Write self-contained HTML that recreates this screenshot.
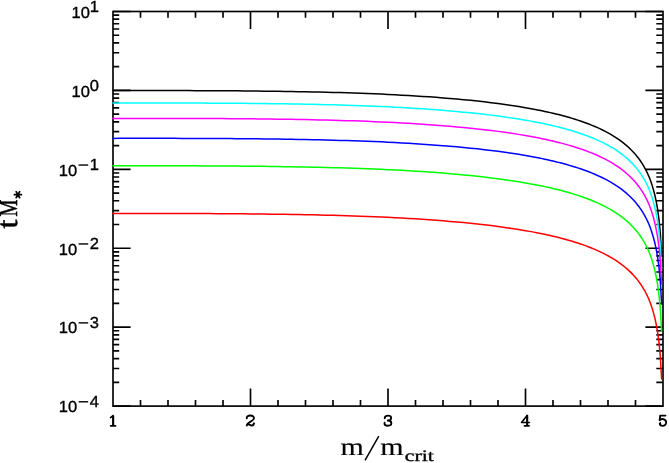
<!DOCTYPE html>
<html><head><meta charset="utf-8"><title>plot</title>
<style>html,body{margin:0;padding:0;background:#fff}svg{display:block;will-change:transform}text{font-family:"Liberation Sans",sans-serif;text-rendering:geometricPrecision;fill:#000;stroke:#000;stroke-width:.35px}.s{font-family:"Liberation Serif",serif;stroke-width:.25px}.b{font-family:"Liberation Serif",serif;stroke-width:.35px}</style></head><body>
<svg width="669" height="463" viewBox="0 0 669 463">
<rect width="669" height="463" fill="#fff"/>
<path d="M140.50 406.10v-6.2M140.50 11.50v6.2M168.00 406.10v-6.2M168.00 11.50v6.2M195.50 406.10v-6.2M195.50 11.50v6.2M223.00 406.10v-6.2M223.00 11.50v6.2M250.50 406.10v-17.6M250.50 11.50v17.6M278.00 406.10v-6.2M278.00 11.50v6.2M305.50 406.10v-6.2M305.50 11.50v6.2M333.00 406.10v-6.2M333.00 11.50v6.2M360.50 406.10v-6.2M360.50 11.50v6.2M388.00 406.10v-17.6M388.00 11.50v17.6M415.50 406.10v-6.2M415.50 11.50v6.2M443.00 406.10v-6.2M443.00 11.50v6.2M470.50 406.10v-6.2M470.50 11.50v6.2M498.00 406.10v-6.2M498.00 11.50v6.2M525.50 406.10v-17.6M525.50 11.50v17.6M553.00 406.10v-6.2M553.00 11.50v6.2M580.50 406.10v-6.2M580.50 11.50v6.2M608.00 406.10v-6.2M608.00 11.50v6.2M635.50 406.10v-6.2M635.50 11.50v6.2M113.00 406.10h17.6M663.00 406.10h-17.6M113.00 382.34h6.2M663.00 382.34h-6.7M113.00 368.45h6.2M663.00 368.45h-6.7M113.00 358.59h6.2M663.00 358.59h-6.7M113.00 350.94h6.2M663.00 350.94h-6.7M113.00 344.69h6.2M663.00 344.69h-6.7M113.00 339.40h6.2M663.00 339.40h-6.7M113.00 334.83h6.2M663.00 334.83h-6.7M113.00 330.79h6.2M663.00 330.79h-6.7M113.00 327.18h17.6M663.00 327.18h-17.6M113.00 303.42h6.2M663.00 303.42h-6.7M113.00 289.53h6.2M663.00 289.53h-6.7M113.00 279.67h6.2M663.00 279.67h-6.7M113.00 272.02h6.2M663.00 272.02h-6.7M113.00 265.77h6.2M663.00 265.77h-6.7M113.00 260.48h6.2M663.00 260.48h-6.7M113.00 255.91h6.2M663.00 255.91h-6.7M113.00 251.87h6.2M663.00 251.87h-6.7M113.00 248.26h17.6M663.00 248.26h-17.6M113.00 224.50h6.2M663.00 224.50h-6.7M113.00 210.61h6.2M663.00 210.61h-6.7M113.00 200.75h6.2M663.00 200.75h-6.7M113.00 193.10h6.2M663.00 193.10h-6.7M113.00 186.85h6.2M663.00 186.85h-6.7M113.00 181.56h6.2M663.00 181.56h-6.7M113.00 176.99h6.2M663.00 176.99h-6.7M113.00 172.95h6.2M663.00 172.95h-6.7M113.00 169.34h17.6M663.00 169.34h-17.6M113.00 145.58h6.2M663.00 145.58h-6.7M113.00 131.69h6.2M663.00 131.69h-6.7M113.00 121.83h6.2M663.00 121.83h-6.7M113.00 114.18h6.2M663.00 114.18h-6.7M113.00 107.93h6.2M663.00 107.93h-6.7M113.00 102.64h6.2M663.00 102.64h-6.7M113.00 98.07h6.2M663.00 98.07h-6.7M113.00 94.03h6.2M663.00 94.03h-6.7M113.00 90.42h17.6M663.00 90.42h-17.6M113.00 66.66h6.2M663.00 66.66h-6.7M113.00 52.77h6.2M663.00 52.77h-6.7M113.00 42.91h6.2M663.00 42.91h-6.7M113.00 35.26h6.2M663.00 35.26h-6.7M113.00 29.01h6.2M663.00 29.01h-6.7M113.00 23.72h6.2M663.00 23.72h-6.7M113.00 19.15h6.2M663.00 19.15h-6.7M113.00 15.11h6.2M663.00 15.11h-6.7M113.00 11.50h17.6M663.00 11.50h-17.6" stroke="#000" stroke-width="1.65" fill="none"/>
<rect x="113.0" y="11.5" width="550.0" height="394.6" fill="none" stroke="#000" stroke-width="1.65"/>
<path d="M113.00,90.60 119.88,90.59 126.75,90.58 133.63,90.57 140.50,90.57 147.38,90.57 154.25,90.57 161.13,90.57 168.00,90.58 174.88,90.59 181.75,90.60 188.63,90.62 195.50,90.64 202.38,90.66 209.25,90.69 216.13,90.73 223.00,90.77 229.88,90.81 236.75,90.86 243.63,90.92 250.50,90.98 257.38,91.06 264.25,91.13 271.13,91.22 278.00,91.31 284.88,91.42 291.75,91.53 298.62,91.65 305.50,91.78 312.37,91.93 319.25,92.08 326.12,92.25 333.00,92.43 339.87,92.62 346.75,92.83 353.62,93.05 360.50,93.28 367.37,93.54 374.25,93.81 381.12,94.09 388.00,94.40 394.87,94.75 401.75,95.13 408.62,95.52 415.50,95.94 422.37,96.38 429.25,96.86 436.12,97.36 443.00,97.89 449.87,98.46 456.75,99.06 463.62,99.69 470.50,100.37 477.37,101.09 484.25,101.86 491.12,102.68 498.00,103.56 504.87,104.49 511.75,105.49 518.62,106.56 525.50,107.71 528.25,108.19 531.00,108.69 533.75,109.20 536.50,109.72 539.25,110.27 542.00,110.83 544.75,111.41 547.50,112.00 550.25,112.62 553.00,113.26 555.75,113.92 558.50,114.60 561.25,115.30 564.00,116.03 566.75,116.79 569.50,117.57 572.25,118.38 575.00,119.23 577.75,120.11 580.50,121.02 583.25,121.98 586.00,122.97 588.75,124.01 591.50,125.09 594.25,126.23 597.00,127.42 599.75,128.67 602.50,129.99 605.25,131.37 608.00,132.84 610.75,134.39 613.50,136.03 616.25,137.78 619.00,139.65 621.75,141.66 624.50,143.82 627.25,146.15 630.00,148.68 632.75,151.46 635.50,154.52 636.87,156.17 638.25,157.92 639.62,159.78 641.00,161.75 642.37,163.86 643.75,166.12 645.12,168.56 646.50,171.20 647.87,174.08 649.25,177.24 650.62,180.85 652.00,184.89 653.37,189.46 654.75,194.74 656.12,200.99 657.50,208.63 658.87,218.49 660.25,232.38 661.62,256.14" fill="none" stroke="#000" stroke-width="1.5" stroke-linejoin="round" stroke-linecap="round"/>
<path d="M113.00,103.04 119.88,103.03 126.75,103.02 133.63,103.01 140.50,103.01 147.38,103.01 154.25,103.01 161.13,103.01 168.00,103.02 174.88,103.03 181.75,103.04 188.63,103.06 195.50,103.08 202.38,103.10 209.25,103.13 216.13,103.17 223.00,103.21 229.88,103.25 236.75,103.30 243.63,103.36 250.50,103.42 257.38,103.50 264.25,103.57 271.13,103.66 278.00,103.75 284.88,103.86 291.75,103.97 298.62,104.09 305.50,104.22 312.37,104.37 319.25,104.52 326.12,104.69 333.00,104.87 339.87,105.06 346.75,105.27 353.62,105.49 360.50,105.72 367.37,105.98 374.25,106.25 381.12,106.53 388.00,106.84 394.87,107.19 401.75,107.57 408.62,107.96 415.50,108.38 422.37,108.82 429.25,109.30 436.12,109.80 443.00,110.33 449.87,110.90 456.75,111.50 463.62,112.13 470.50,112.81 477.37,113.53 484.25,114.30 491.12,115.12 498.00,116.00 504.87,116.93 511.75,117.93 518.62,119.00 525.50,120.15 528.25,120.63 531.00,121.13 533.75,121.64 536.50,122.16 539.25,122.71 542.00,123.27 544.75,123.85 547.50,124.44 550.25,125.06 553.00,125.70 555.75,126.36 558.50,127.04 561.25,127.74 564.00,128.47 566.75,129.23 569.50,130.01 572.25,130.82 575.00,131.67 577.75,132.55 580.50,133.46 583.25,134.42 586.00,135.41 588.75,136.45 591.50,137.53 594.25,138.67 597.00,139.86 599.75,141.11 602.50,142.43 605.25,143.81 608.00,145.28 610.75,146.83 613.50,148.47 616.25,150.22 619.00,152.09 621.75,154.10 624.50,156.26 627.25,158.59 630.00,161.12 632.75,163.90 635.50,166.96 636.87,168.61 638.25,170.36 639.62,172.22 641.00,174.19 642.37,176.30 643.75,178.56 645.12,181.00 646.50,183.64 647.87,186.52 649.25,189.68 650.62,193.29 652.00,197.33 653.37,201.90 654.75,207.18 656.12,213.43 657.50,221.07 658.87,230.93 660.25,244.82 661.62,268.58" fill="none" stroke="#0ff" stroke-width="1.5" stroke-linejoin="round" stroke-linecap="round"/>
<path d="M113.00,118.42 119.88,118.41 126.75,118.40 133.63,118.39 140.50,118.39 147.38,118.39 154.25,118.39 161.13,118.39 168.00,118.40 174.88,118.41 181.75,118.42 188.63,118.44 195.50,118.46 202.38,118.48 209.25,118.51 216.13,118.55 223.00,118.59 229.88,118.63 236.75,118.68 243.63,118.74 250.50,118.80 257.38,118.88 264.25,118.95 271.13,119.04 278.00,119.13 284.88,119.24 291.75,119.35 298.62,119.47 305.50,119.60 312.37,119.75 319.25,119.90 326.12,120.07 333.00,120.25 339.87,120.44 346.75,120.65 353.62,120.87 360.50,121.10 367.37,121.36 374.25,121.63 381.12,121.91 388.00,122.22 394.87,122.57 401.75,122.95 408.62,123.34 415.50,123.76 422.37,124.20 429.25,124.68 436.12,125.18 443.00,125.71 449.87,126.28 456.75,126.88 463.62,127.51 470.50,128.19 477.37,128.91 484.25,129.68 491.12,130.50 498.00,131.38 504.87,132.31 511.75,133.31 518.62,134.38 525.50,135.53 528.25,136.01 531.00,136.51 533.75,137.02 536.50,137.54 539.25,138.09 542.00,138.65 544.75,139.23 547.50,139.82 550.25,140.44 553.00,141.08 555.75,141.74 558.50,142.42 561.25,143.12 564.00,143.85 566.75,144.61 569.50,145.39 572.25,146.20 575.00,147.05 577.75,147.93 580.50,148.84 583.25,149.80 586.00,150.79 588.75,151.83 591.50,152.91 594.25,154.05 597.00,155.24 599.75,156.49 602.50,157.81 605.25,159.19 608.00,160.66 610.75,162.21 613.50,163.85 616.25,165.60 619.00,167.47 621.75,169.48 624.50,171.64 627.25,173.97 630.00,176.50 632.75,179.28 635.50,182.34 636.87,183.99 638.25,185.74 639.62,187.60 641.00,189.57 642.37,191.68 643.75,193.94 645.12,196.38 646.50,199.02 647.87,201.90 649.25,205.06 650.62,208.67 652.00,212.71 653.37,217.28 654.75,222.56 656.12,228.81 657.50,236.45 658.87,246.31 660.25,260.20 661.62,283.96" fill="none" stroke="#f0f" stroke-width="1.5" stroke-linejoin="round" stroke-linecap="round"/>
<path d="M113.00,138.38 119.88,138.37 126.75,138.36 133.63,138.35 140.50,138.35 147.38,138.35 154.25,138.35 161.13,138.35 168.00,138.36 174.88,138.37 181.75,138.38 188.63,138.40 195.50,138.42 202.38,138.44 209.25,138.47 216.13,138.51 223.00,138.55 229.88,138.59 236.75,138.64 243.63,138.70 250.50,138.76 257.38,138.84 264.25,138.91 271.13,139.00 278.00,139.09 284.88,139.20 291.75,139.31 298.62,139.43 305.50,139.56 312.37,139.71 319.25,139.86 326.12,140.03 333.00,140.21 339.87,140.40 346.75,140.61 353.62,140.83 360.50,141.06 367.37,141.32 374.25,141.59 381.12,141.87 388.00,142.18 394.87,142.53 401.75,142.91 408.62,143.30 415.50,143.72 422.37,144.16 429.25,144.64 436.12,145.14 443.00,145.67 449.87,146.24 456.75,146.84 463.62,147.47 470.50,148.15 477.37,148.87 484.25,149.64 491.12,150.46 498.00,151.34 504.87,152.27 511.75,153.27 518.62,154.34 525.50,155.49 528.25,155.97 531.00,156.47 533.75,156.98 536.50,157.50 539.25,158.05 542.00,158.61 544.75,159.19 547.50,159.78 550.25,160.40 553.00,161.04 555.75,161.70 558.50,162.38 561.25,163.08 564.00,163.81 566.75,164.57 569.50,165.35 572.25,166.16 575.00,167.01 577.75,167.89 580.50,168.80 583.25,169.76 586.00,170.75 588.75,171.79 591.50,172.87 594.25,174.01 597.00,175.20 599.75,176.45 602.50,177.77 605.25,179.15 608.00,180.62 610.75,182.17 613.50,183.81 616.25,185.56 619.00,187.43 621.75,189.44 624.50,191.60 627.25,193.93 630.00,196.46 632.75,199.24 635.50,202.30 636.87,203.95 638.25,205.70 639.62,207.56 641.00,209.53 642.37,211.64 643.75,213.90 645.12,216.34 646.50,218.98 647.87,221.86 649.25,225.02 650.62,228.63 652.00,232.67 653.37,237.24 654.75,242.52 656.12,248.77 657.50,256.41 658.87,266.27 660.25,280.16 661.62,303.92" fill="none" stroke="#00f" stroke-width="1.5" stroke-linejoin="round" stroke-linecap="round"/>
<path d="M113.00,165.83 119.88,165.82 126.75,165.81 133.63,165.80 140.50,165.80 147.38,165.80 154.25,165.80 161.13,165.80 168.00,165.81 174.88,165.82 181.75,165.83 188.63,165.85 195.50,165.87 202.38,165.89 209.25,165.92 216.13,165.96 223.00,166.00 229.88,166.04 236.75,166.09 243.63,166.15 250.50,166.21 257.38,166.29 264.25,166.36 271.13,166.45 278.00,166.54 284.88,166.65 291.75,166.76 298.62,166.88 305.50,167.01 312.37,167.16 319.25,167.31 326.12,167.48 333.00,167.66 339.87,167.85 346.75,168.06 353.62,168.28 360.50,168.51 367.37,168.77 374.25,169.04 381.12,169.32 388.00,169.63 394.87,169.98 401.75,170.36 408.62,170.75 415.50,171.17 422.37,171.61 429.25,172.09 436.12,172.59 443.00,173.12 449.87,173.69 456.75,174.29 463.62,174.92 470.50,175.60 477.37,176.32 484.25,177.09 491.12,177.91 498.00,178.79 504.87,179.72 511.75,180.72 518.62,181.79 525.50,182.94 528.25,183.42 531.00,183.92 533.75,184.43 536.50,184.95 539.25,185.50 542.00,186.06 544.75,186.64 547.50,187.23 550.25,187.85 553.00,188.49 555.75,189.15 558.50,189.83 561.25,190.53 564.00,191.26 566.75,192.02 569.50,192.80 572.25,193.61 575.00,194.46 577.75,195.34 580.50,196.25 583.25,197.21 586.00,198.20 588.75,199.24 591.50,200.32 594.25,201.46 597.00,202.65 599.75,203.90 602.50,205.22 605.25,206.60 608.00,208.07 610.75,209.62 613.50,211.26 616.25,213.01 619.00,214.88 621.75,216.89 624.50,219.05 627.25,221.38 630.00,223.91 632.75,226.69 635.50,229.75 636.87,231.40 638.25,233.15 639.62,235.01 641.00,236.98 642.37,239.09 643.75,241.35 645.12,243.79 646.50,246.43 647.87,249.31 649.25,252.47 650.62,256.08 652.00,260.12 653.37,264.69 654.75,269.97 656.12,276.22 657.50,283.86 658.87,293.72 660.25,307.61 661.62,331.37" fill="none" stroke="#0f0" stroke-width="1.5" stroke-linejoin="round" stroke-linecap="round"/>
<path d="M113.00,213.53 119.88,213.52 126.75,213.51 133.63,213.50 140.50,213.50 147.38,213.50 154.25,213.50 161.13,213.50 168.00,213.51 174.88,213.52 181.75,213.53 188.63,213.55 195.50,213.57 202.38,213.59 209.25,213.62 216.13,213.66 223.00,213.70 229.88,213.74 236.75,213.79 243.63,213.85 250.50,213.91 257.38,213.99 264.25,214.06 271.13,214.15 278.00,214.24 284.88,214.35 291.75,214.46 298.62,214.58 305.50,214.71 312.37,214.86 319.25,215.01 326.12,215.18 333.00,215.36 339.87,215.55 346.75,215.76 353.62,215.98 360.50,216.21 367.37,216.47 374.25,216.74 381.12,217.02 388.00,217.33 394.87,217.68 401.75,218.06 408.62,218.45 415.50,218.87 422.37,219.31 429.25,219.79 436.12,220.29 443.00,220.82 449.87,221.39 456.75,221.99 463.62,222.62 470.50,223.30 477.37,224.02 484.25,224.79 491.12,225.61 498.00,226.49 504.87,227.42 511.75,228.42 518.62,229.49 525.50,230.64 528.25,231.12 531.00,231.62 533.75,232.13 536.50,232.65 539.25,233.20 542.00,233.76 544.75,234.34 547.50,234.93 550.25,235.55 553.00,236.19 555.75,236.85 558.50,237.53 561.25,238.23 564.00,238.96 566.75,239.72 569.50,240.50 572.25,241.31 575.00,242.16 577.75,243.04 580.50,243.95 583.25,244.91 586.00,245.90 588.75,246.94 591.50,248.02 594.25,249.16 597.00,250.35 599.75,251.60 602.50,252.92 605.25,254.30 608.00,255.77 610.75,257.32 613.50,258.96 616.25,260.71 619.00,262.58 621.75,264.59 624.50,266.75 627.25,269.08 630.00,271.61 632.75,274.39 635.50,277.45 636.87,279.10 638.25,280.85 639.62,282.71 641.00,284.68 642.37,286.79 643.75,289.05 645.12,291.49 646.50,294.13 647.87,297.01 649.25,300.17 650.62,303.78 652.00,307.82 653.37,312.39 654.75,317.67 656.12,323.92 657.50,331.56 658.87,341.42 660.25,355.31 661.62,379.07" fill="none" stroke="#f00" stroke-width="1.5" stroke-linejoin="round" stroke-linecap="round"/>
<text transform="translate(77.10,412.40) scale(1.03,1)" font-size="16" text-anchor="end">10</text>
<path d="M78.6 401.80h9.6" stroke="#000" stroke-width="1.4" fill="none"/>
<text transform="translate(98.80,406.70) scale(1.03,1)" font-size="16" text-anchor="end">4</text>
<text transform="translate(77.10,333.48) scale(1.03,1)" font-size="16" text-anchor="end">10</text>
<path d="M78.6 322.88h9.6" stroke="#000" stroke-width="1.4" fill="none"/>
<text transform="translate(98.80,327.78) scale(1.03,1)" font-size="16" text-anchor="end">3</text>
<text transform="translate(77.10,254.56) scale(1.03,1)" font-size="16" text-anchor="end">10</text>
<path d="M78.6 243.96h9.6" stroke="#000" stroke-width="1.4" fill="none"/>
<text transform="translate(98.80,248.86) scale(1.03,1)" font-size="16" text-anchor="end">2</text>
<text transform="translate(77.10,175.64) scale(1.03,1)" font-size="16" text-anchor="end">10</text>
<path d="M78.6 165.04h9.6" stroke="#000" stroke-width="1.4" fill="none"/>
<text transform="translate(98.80,169.94) scale(1.03,1)" font-size="16" text-anchor="end">1</text>
<text transform="translate(89.90,96.72) scale(1.03,1)" font-size="16" text-anchor="end">10</text>
<text transform="translate(98.80,91.02) scale(1.03,1)" font-size="16" text-anchor="end">0</text>
<text transform="translate(89.90,17.80) scale(1.03,1)" font-size="16" text-anchor="end">10</text>
<text transform="translate(98.80,12.10) scale(1.03,1)" font-size="16" text-anchor="end">1</text>
<path d="M113.13,415.56 L113.13,425.59" stroke="#000" stroke-width="2.15" fill="none" stroke-linecap="butt" stroke-linejoin="round"/>
<path d="M110.54,417.61 L113.02,415.56" stroke="#000" stroke-width="1.6" fill="none" stroke-linecap="round" stroke-linejoin="round"/>
<path d="M110.65,425.81 L115.51,425.81" stroke="#000" stroke-width="1.8" fill="none" stroke-linecap="round" stroke-linejoin="round"/>
<path d="M246.79,418.36 C246.36,416.53 248.19,415.50 250.24,415.50 C252.62,415.50 254.02,416.53 253.91,418.25 C253.80,419.98 251.43,421.22 249.16,422.46 C247.76,423.27 247.06,424.19 246.79,425.49 M247.33,424.19 C248.84,423.87 250.13,425.27 251.75,425.49 C253.15,425.59 253.80,424.51 254.07,423.33" stroke="#000" stroke-width="1.9" fill="none" stroke-linecap="round" stroke-linejoin="round"/>
<path d="M384.68,418.36 C384.68,416.53 386.19,415.61 387.97,415.61 C389.86,415.61 391.15,416.53 391.15,417.93 C391.15,419.44 389.75,420.52 387.70,420.52 C389.97,420.52 391.37,421.71 391.37,423.33 C391.37,424.84 389.86,425.75 387.97,425.75 C386.08,425.75 384.46,424.95 384.46,423.43 L384.62,422.68" stroke="#000" stroke-width="1.8" fill="none" stroke-linecap="round" stroke-linejoin="round"/>
<path d="M527.16,415.23 L527.16,425.59" stroke="#000" stroke-width="2.15" fill="none" stroke-linecap="butt" stroke-linejoin="round"/>
<path d="M527.27,415.34 L521.49,422.46 L529.43,422.46" stroke="#000" stroke-width="1.6" fill="none" stroke-linecap="round" stroke-linejoin="round"/>
<path d="M524.46,425.81 L529.00,425.81" stroke="#000" stroke-width="1.8" fill="none" stroke-linecap="round" stroke-linejoin="round"/>
<path d="M665.47,415.61 L660.18,415.61 L659.64,420.20 C660.94,419.06 663.10,418.85 664.61,419.66 C666.01,420.47 666.34,422.14 666.01,423.54 C665.47,425.16 664.07,425.81 662.56,425.81 C661.05,425.81 659.86,424.95 659.75,423.70 L660.29,423.06" stroke="#000" stroke-width="1.85" fill="none" stroke-linecap="round" stroke-linejoin="round"/>
<text class="s" transform="translate(340.40,455.40) scale(1.2,1)" font-size="25" text-anchor="start" style="stroke-width:.15px">m</text>
<path d="M365.3 459.9L378.5 436.7" stroke="#000" stroke-width="1.5" fill="none" stroke-linecap="round"/>
<text class="s" transform="translate(380.20,455.40) scale(1.2,1)" font-size="25" text-anchor="start" style="stroke-width:.15px">m</text>
<text class="b" transform="translate(404.80,461.20) scale(1.36,1)" font-size="16" text-anchor="start">crit</text>
<g transform="translate(17.1,228.1) rotate(-90)">
<text class="s" transform="translate(-0.30,0.00) scale(1.1,1)" font-size="29.5" text-anchor="start" style="stroke-width:.45px">t</text>
<text class="s" transform="translate(11.60,0.00) scale(0.73,1)" font-size="26" text-anchor="start" style="stroke-width:.6px">M</text>
</g>
<path d="M14.40 194.70L21.40 194.70M16.15 191.67L19.65 197.73M19.65 191.67L16.15 197.73" stroke="#000" stroke-width="1.7" fill="none" stroke-linecap="round"/>
</svg></body></html>
